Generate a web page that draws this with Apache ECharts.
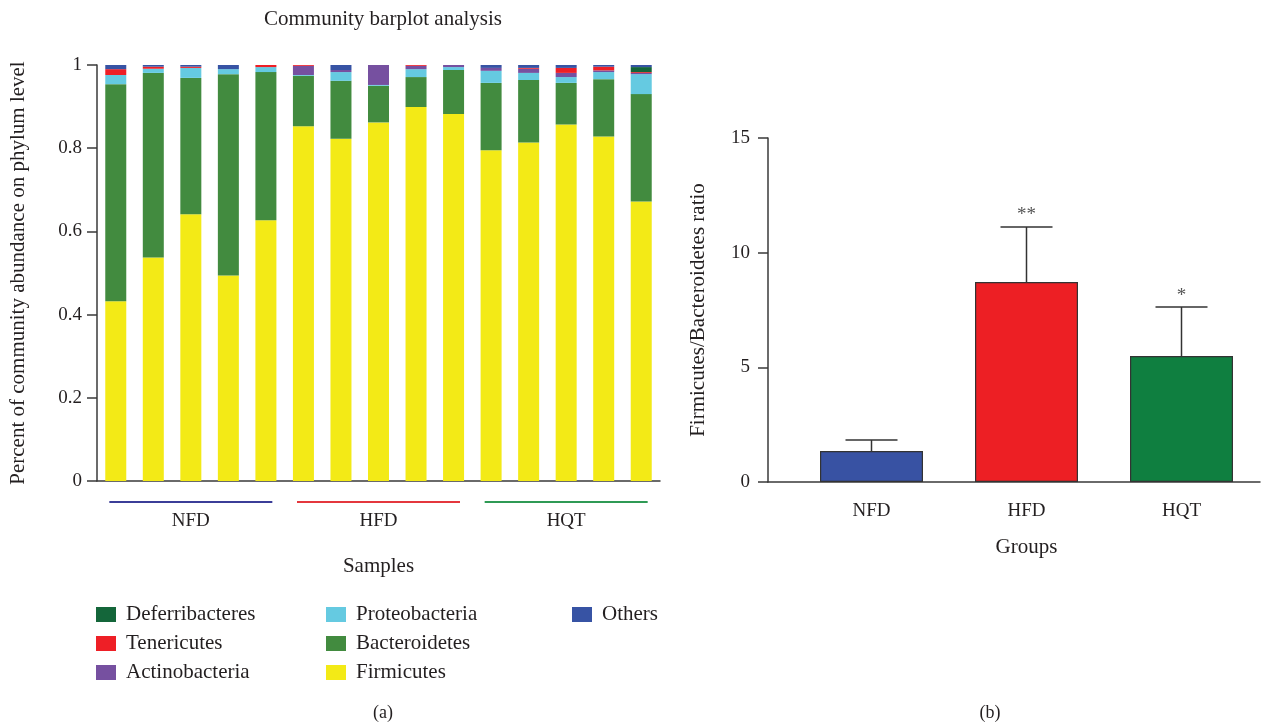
<!DOCTYPE html>
<html style="height: 100%">
<head>
    <meta charset="utf-8">
    <title>Community barplot analysis</title>
    <script type="text/javascript" src="https://cdn.jsdelivr.net/npm/echarts@6/dist/echarts.min.js"></script>
</head>
<body style="height: 100%; margin: 0; background: #fff">
    <div id="container" style="width: 1287px; height: 725px"></div>
    <script type="text/javascript">
        // 样本（15个），分组
        var samples = ['NFD1', 'NFD2', 'NFD3', 'NFD4', 'NFD5', 'HFD1', 'HFD2', 'HFD3', 'HFD4', 'HFD5',
            'HQT1', 'HQT2', 'HQT3', 'HQT4', 'HQT5'];
        var groups = ['NFD', 'HFD', 'HQT'];

        // 各门相对丰度（从下往上堆叠）
        var firmicutes = [0.432, 0.537, 0.641, 0.494, 0.627, 0.853, 0.823, 0.862, 0.899, 0.882, 0.795, 0.814, 0.857, 0.828, 0.672];
        var bacteroidetes = [0.522, 0.444, 0.328, 0.484, 0.356, 0.121, 0.139, 0.088, 0.072, 0.106, 0.162, 0.150, 0.100, 0.138, 0.258];
        var proteobacteria = [0.022, 0.010, 0.024, 0.012, 0.012, 0.002, 0.021, 0.002, 0.019, 0.007, 0.029, 0.017, 0.014, 0.017, 0.048];
        var actinobacteria = [0, 0, 0, 0, 0, 0.022, 0.005, 0.048, 0.008, 0.005, 0.007, 0.010, 0.010, 0.004, 0.003];
        var tenericutes = [0.014, 0.005, 0.003, 0, 0.005, 0.002, 0, 0, 0.002, 0, 0, 0.002, 0.012, 0.009, 0.002];
        var deferribacteres = [0, 0, 0, 0, 0, 0, 0, 0, 0, 0, 0, 0, 0, 0, 0.012];
        var others = [0.010, 0.004, 0.004, 0.010, 0, 0, 0.012, 0, 0, 0, 0.007, 0.007, 0.007, 0.004, 0.005];

        // 右图 F/B 比值
        var ratioMean = [1.35, 8.72, 5.49];
        var ratioErr = [0.48, 2.40, 2.14];
        var ratioSig = ['', '**', '*'];

        var phylumColor = {
            Deferribacteres: '#14663a',
            Tenericutes: '#ee1f26',
            Actinobacteria: '#7650a0',
            Proteobacteria: '#65cae1',
            Bacteroidetes: '#428b3f',
            Firmicutes: '#f3ea16',
            Others: '#3753a4'
        };
        var groupLineColor = ['#3b3d98', '#e4373d', '#2f9a55'];
        var groupBarColor = ['#3852a3', '#ed1f24', '#0f7f40'];

        var serif = '"Liberation Serif", "DejaVu Serif", serif';
        var txt = '#231f20';
        var axisCol = '#3a3a3a';

        function stackSeries(name, data) {
            return {
                name: name,
                type: 'bar',
                stack: 'phylum',
                barWidth: 21,
                xAxisIndex: 0,
                yAxisIndex: 0,
                itemStyle: { color: phylumColor[name] },
                data: data
            };
        }

        // 误差线
        function renderErr(params, api) {
            var p0 = api.coord([api.value(0), api.value(1)]);
            var p1 = api.coord([api.value(0), api.value(2)]);
            var half = 26;
            return {
                type: 'group',
                children: [
                    { type: 'line', shape: { x1: p0[0], y1: p0[1], x2: p1[0], y2: p1[1] }, style: { stroke: '#333', lineWidth: 1.5 } },
                    { type: 'line', shape: { x1: p1[0] - half, y1: p1[1], x2: p1[0] + half, y2: p1[1] }, style: { stroke: '#333', lineWidth: 1.5 } },
                    {
                        type: 'text', x: p1[0], y: p1[1] - 2,
                        style: { text: ratioSig[params.dataIndex], align: 'center', verticalAlign: 'bottom', fontFamily: serif, fontSize: 19, fill: '#555' }
                    }
                ]
            };
        }

        var errData = ratioMean.map(function (m, i) { return [i, m, m + ratioErr[i]]; });

        var dom = document.getElementById("container");
        var myChart = echarts.init(dom);

        var legendBase = {
            orient: 'vertical',
            icon: 'rect',
            padding: 0,
            itemWidth: 20,
            itemHeight: 15,
            itemGap: 8,
            top: 604,
            textStyle: { fontFamily: serif, fontSize: 21, color: txt, padding: [0, 0, 0, 5] }
        };

        var option = {
            backgroundColor: '#fff',
            animation: false,
            textStyle: { fontFamily: serif },
            title: [
                { text: 'Community barplot analysis', left: 378, top: 4, textAlign: 'center', textStyle: { fontFamily: serif, fontSize: 21, fontWeight: 'normal', color: txt } },
                { text: '(a)', left: 378, top: 699, textAlign: 'center', textStyle: { fontFamily: serif, fontSize: 18, fontWeight: 'normal', color: txt } },
                { text: '(b)', left: 985, top: 699, textAlign: 'center', textStyle: { fontFamily: serif, fontSize: 18, fontWeight: 'normal', color: txt } }
            ],
            legend: [
                Object.assign({}, legendBase, { left: 96, data: ['Deferribacteres', 'Tenericutes', 'Actinobacteria'] }),
                Object.assign({}, legendBase, { left: 326, data: ['Proteobacteria', 'Bacteroidetes', 'Firmicutes'] }),
                Object.assign({}, legendBase, { left: 572, data: ['Others'] })
            ],
            grid: [
                { left: 97, top: 65, width: 563, height: 416 },   // 左图
                { left: 97, top: 501, width: 563, height: 2 },    // 分组线
                { left: 794, top: 138, width: 465, height: 344 }, // 右图
                { left: 768, top: 138, width: 492, height: 344 }  // 右图 x 轴线
            ],
            xAxis: [
                {
                    type: 'category', gridIndex: 0, data: samples,
                    axisLine: { lineStyle: { color: axisCol, width: 1.5 } },
                    axisTick: { length: 10, lineStyle: { color: axisCol, width: 1.5 } },
                    axisLabel: { show: false }
                },
                {
                    type: 'category', gridIndex: 1, data: groups,
                    axisLine: { show: false }, axisTick: { show: false },
                    axisLabel: { margin: 9, fontFamily: serif, fontSize: 19, color: txt },
                    name: 'Samples', nameLocation: 'middle', nameGap: 53,
                    nameTextStyle: { fontFamily: serif, fontSize: 21, color: txt }
                },
                {
                    type: 'category', gridIndex: 2, data: groups,
                    axisLine: { show: false },
                    axisTick: { alignWithLabel: true, length: 10, lineStyle: { color: axisCol, width: 1.5 } },
                    axisLabel: { margin: 20, fontFamily: serif, fontSize: 19, color: txt },
                    name: 'Groups', nameLocation: 'middle', nameGap: 55,
                    nameTextStyle: { fontFamily: serif, fontSize: 21, color: txt }
                },
                {
                    type: 'category', gridIndex: 3, data: groups,
                    axisLine: { lineStyle: { color: axisCol, width: 1.5 } },
                    axisTick: { show: false }, axisLabel: { show: false }
                }
            ],
            yAxis: [
                {
                    type: 'value', gridIndex: 0, min: 0, max: 1, interval: 0.2,
                    axisLine: { show: true, lineStyle: { color: axisCol, width: 1.5 } },
                    axisTick: { show: true, length: 10, lineStyle: { color: axisCol, width: 1.5 } },
                    axisLabel: { margin: 15, fontFamily: serif, fontSize: 19, color: txt },
                    splitLine: { show: false },
                    name: 'Percent of community abundance on phylum level',
                    nameLocation: 'middle', nameGap: 68,
                    nameTextStyle: { fontFamily: serif, fontSize: 21, color: txt }
                },
                { type: 'value', gridIndex: 1, min: 0, max: 1, show: false },
                {
                    type: 'value', gridIndex: 2, min: 0, max: 15, interval: 5, offset: 26,
                    axisLine: { show: true, lineStyle: { color: axisCol, width: 1.5 } },
                    axisTick: { show: true, length: 10, lineStyle: { color: axisCol, width: 1.5 } },
                    axisLabel: { margin: 18, fontFamily: serif, fontSize: 19, color: txt },
                    splitLine: { show: false },
                    name: 'Firmicutes/Bacteroidetes ratio',
                    nameLocation: 'middle', nameGap: 59,
                    nameTextStyle: { fontFamily: serif, fontSize: 21, color: txt }
                },
                { type: 'value', gridIndex: 3, min: 0, max: 1, show: false }
            ],
            series: [
                stackSeries('Firmicutes', firmicutes),
                stackSeries('Bacteroidetes', bacteroidetes),
                stackSeries('Proteobacteria', proteobacteria),
                stackSeries('Actinobacteria', actinobacteria),
                stackSeries('Tenericutes', tenericutes),
                stackSeries('Deferribacteres', deferribacteres),
                stackSeries('Others', others),
                {
                    // 分组下划线
                    type: 'bar', xAxisIndex: 1, yAxisIndex: 1, barWidth: 163,
                    data: groups.map(function (g, i) { return { value: 1, itemStyle: { color: groupLineColor[i] } }; })
                },
                {
                    type: 'bar', xAxisIndex: 2, yAxisIndex: 2, barWidth: 103,
                    data: ratioMean.map(function (v, i) {
                        return { value: v, itemStyle: { color: groupBarColor[i], borderColor: '#333', borderWidth: 1.2 } };
                    })
                },
                {
                    type: 'custom', xAxisIndex: 2, yAxisIndex: 2,
                    renderItem: renderErr,
                    data: errData,
                    z: 3
                }
            ]
        };

        myChart.setOption(option, true);
    </script>
</body>
</html>
